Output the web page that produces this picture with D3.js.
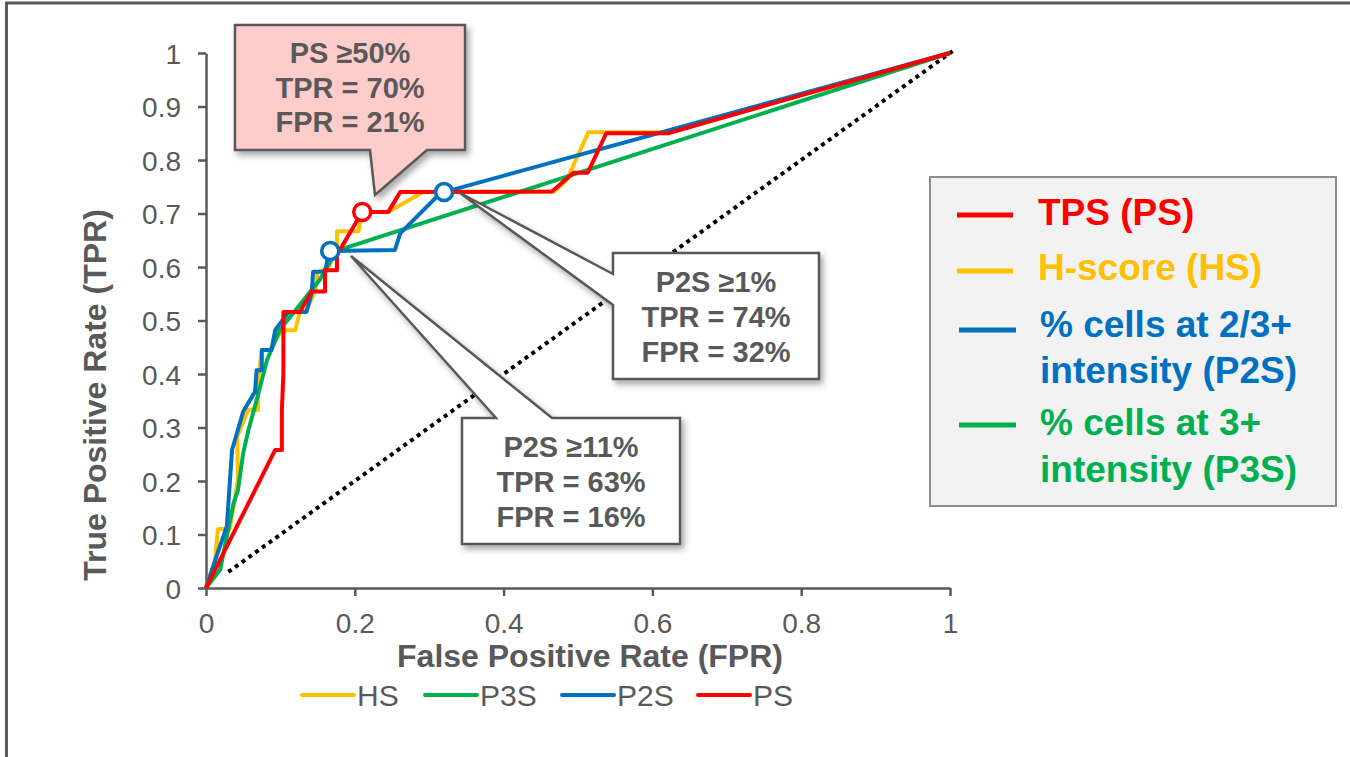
<!DOCTYPE html>
<html>
<head>
<meta charset="utf-8">
<script src="https://cdn.jsdelivr.net/npm/d3@7"></script>
<style>
  html, body { margin: 0; padding: 0; background: #fff; }
  svg { display: block; font-family: "Liberation Sans", Arial, sans-serif; }
</style>
</head>
<body>
<svg id="chart" width="1350" height="757"></svg>
<script>
// ---------------- DATA ----------------
const seriesNames = ["HS", "P3S", "P2S", "PS"];
const seriesColors = ["#ffc000", "#00b050", "#0070c0", "#ff0000"];

// [FPR, TPR] points of each ROC curve
const hsPoints = [[0,0],[0.012,0.05],[0.016,0.11],[0.032,0.111],[0.043,0.202],[0.042,0.283],[0.055,0.327],[0.057,0.333],[0.070,0.333],[0.070,0.389],[0.075,0.445],[0.086,0.445],[0.102,0.482],[0.120,0.482],[0.126,0.516],[0.135,0.520],[0.147,0.556],[0.150,0.590],[0.165,0.600],[0.176,0.632],[0.176,0.667],[0.205,0.667],[0.210,0.703],[0.245,0.703],[0.292,0.740],[0.468,0.741],[0.485,0.763],[0.514,0.852],[0.538,0.852],[0.621,0.852],[1,1]];
const p3sPoints = [[0,0],[0.019,0.034],[0.037,0.158],[0.043,0.183],[0.050,0.252],[0.057,0.295],[0.068,0.351],[0.082,0.426],[0.099,0.482],[0.135,0.545],[0.153,0.576],[0.175,0.630],[1,1]];
const p2sPoints = [[0,0],[0.017,0.071],[0.028,0.115],[0.035,0.258],[0.050,0.330],[0.066,0.367],[0.068,0.407],[0.075,0.407],[0.075,0.445],[0.088,0.445],[0.093,0.482],[0.111,0.516],[0.135,0.516],[0.142,0.551],[0.144,0.591],[0.160,0.591],[0.164,0.619],[0.167,0.630],[0.254,0.632],[0.261,0.663],[0.310,0.731],[0.320,0.740],[1,1]];
const psPoints = [[0,0],[0.093,0.258],[0.102,0.258],[0.102,0.333],[0.104,0.400],[0.104,0.516],[0.126,0.516],[0.142,0.554],[0.160,0.554],[0.160,0.594],[0.176,0.594],[0.176,0.632],[0.180,0.632],[0.210,0.703],[0.245,0.703],[0.261,0.740],[0.465,0.741],[0.494,0.776],[0.513,0.776],[0.538,0.850],[0.621,0.850],[1,1]];
const chancePoints = [[0.03,0.03],[1.008,1.008]];

// highlighted cut-offs
const markerSeries = ["PS", "P2S", "P2S"];
const markerFPR = [0.21, 0.167, 0.32];
const markerTPR = [0.703, 0.63, 0.74];

const xTickValues = [0, 0.2, 0.4, 0.6, 0.8, 1];
const xTickLabels = ["0", "0.2", "0.4", "0.6", "0.8", "1"];
const yTickValues = [0, 0.1, 0.2, 0.3, 0.4, 0.5, 0.6, 0.7, 0.8, 0.9, 1];
const yTickLabels = ["0", "0.1", "0.2", "0.3", "0.4", "0.5", "0.6", "0.7", "0.8", "0.9", "1"];

const xTitle = "False Positive Rate (FPR)";
const yTitle = "True Positive Rate (TPR)";

const calloutTexts = [
  ["PS \u226550%", "TPR = 70%", "FPR = 21%"],
  ["P2S \u22651%", "TPR = 74%", "FPR = 32%"],
  ["P2S \u226511%", "TPR = 63%", "FPR = 16%"]
];

const sideLegendLines = [
  ["TPS (PS)"],
  ["H-score (HS)"],
  ["% cells at 2/3+", "intensity (P2S)"],
  ["% cells at 3+", "intensity (P3S)"]
];
const sideLegendColors = ["#ff0000", "#ffc000", "#0070c0", "#00b050"];

// ---------------- DRAW ----------------
const svg = d3.select("#chart");
const grey = "#595959";

const defs = svg.append("defs");
const f = defs.append("filter").attr("id", "shadow").attr("x", "-10%").attr("y", "-10%").attr("width", "130%").attr("height", "130%");
f.append("feDropShadow").attr("dx", 3).attr("dy", 4).attr("stdDeviation", 3)
  .attr("flood-color", "#000").attr("flood-opacity", 0.35);

// outer frame
svg.append("rect").attr("x", 6.5).attr("y", 3).attr("width", 1400).attr("height", 800)
  .attr("fill", "none").attr("stroke", grey).attr("stroke-width", 3);

const x = d3.scaleLinear().domain([0, 1]).range([206, 950]);
const y = d3.scaleLinear().domain([0, 1]).range([588, 53]);

// axes
const yAxis = d3.axisLeft(y).tickValues(yTickValues)
  .tickFormat((d, i) => yTickLabels[i]).tickSize(8).tickSizeOuter(0).tickPadding(17);
const xAxis = d3.axisBottom(x).tickValues(xTickValues)
  .tickFormat((d, i) => xTickLabels[i]).tickSize(8).tickSizeOuter(0).tickPadding(17);

const gx = svg.append("g").attr("transform", `translate(0,${y(0)})`).call(xAxis);
const gy = svg.append("g").attr("transform", `translate(${x(0)},0)`).call(yAxis);
[gx, gy].forEach(g => {
  g.select(".domain").attr("stroke", grey).attr("stroke-width", 2.5);
  g.selectAll(".tick line").attr("stroke", grey).attr("stroke-width", 2.5);
  g.selectAll(".tick text").attr("fill", grey).style("font-size", "28px")
    .style("font-family", '"Liberation Sans", Arial, sans-serif');
});
gy.selectAll(".tick text").attr("dy", "0.36em");

// axis titles
svg.append("text").attr("x", 590).attr("y", 667).attr("text-anchor", "middle")
  .attr("fill", grey).style("font-size", "32px").style("font-weight", "bold").text(xTitle);
svg.append("text").attr("transform", "translate(95,395) rotate(-90)")
  .attr("text-anchor", "middle").attr("dominant-baseline", "central")
  .attr("fill", grey).style("font-size", "32px").style("font-weight", "bold").text(yTitle);

// chance diagonal
const line = d3.line().x(d => x(d[0])).y(d => y(d[1]));
svg.append("path").attr("d", line(chancePoints)).attr("fill", "none")
  .attr("stroke", "#000").attr("stroke-width", 4).attr("stroke-dasharray", "4,4.3");

// curves
const allPoints = [hsPoints, p3sPoints, p2sPoints, psPoints];
allPoints.forEach((pts, i) => {
  svg.append("path").attr("d", line(pts)).attr("fill", "none")
    .attr("stroke", seriesColors[i]).attr("stroke-width", 4)
    .attr("stroke-linejoin", "round");
});

// markers
markerFPR.forEach((fp, i) => {
  svg.append("circle").attr("cx", x(fp)).attr("cy", y(markerTPR[i])).attr("r", 8.5)
    .attr("fill", "#fff").attr("stroke", seriesColors[seriesNames.indexOf(markerSeries[i])])
    .attr("stroke-width", 3.5);
});

// callouts
const calloutShapes = [
  { d: "M235,25 H465 V150 H427 L375,195 L370,150 H235 Z", fill: "#ffcccc", cx: 350, base: [63, 98, 132] },
  { d: "M613,253 H819 V379 H613 V305 L460,193 L613,274 Z", fill: "#ffffff", cx: 716, base: [292, 327, 362] },
  { d: "M462,418 H496 L351,256 L552,418 H680 V544 H462 Z", fill: "#ffffff", cx: 571, base: [457, 492, 527] }
];
calloutShapes.forEach((c, i) => {
  svg.append("path").attr("d", c.d).attr("fill", c.fill)
    .attr("stroke", grey).attr("stroke-width", 2.5).attr("stroke-linejoin", "miter")
    .attr("filter", "url(#shadow)");
  calloutTexts[i].forEach((t, j) => {
    svg.append("text").attr("x", c.cx).attr("y", c.base[j]).attr("text-anchor", "middle")
      .attr("fill", grey).style("font-size", "29px").style("font-weight", "bold").text(t);
  });
});

// side legend
svg.append("rect").attr("x", 930).attr("y", 177).attr("width", 406).attr("height", 329)
  .attr("fill", "#f2f2f2").attr("stroke", "#8c8c8c").attr("stroke-width", 2);
const sideLineY = [215, 271, 330, 425];
const sideLineX = [[957, 1013], [957, 1013], [959, 1016], [959, 1016]];
const sideTextY = [[225], [280], [337, 383], [435, 482]];
const sideTextX = [1038, 1038, 1040, 1040];
sideLegendLines.forEach((lines, i) => {
  svg.append("line").attr("x1", sideLineX[i][0]).attr("x2", sideLineX[i][1])
    .attr("y1", sideLineY[i]).attr("y2", sideLineY[i])
    .attr("stroke", sideLegendColors[i]).attr("stroke-width", 5);
  lines.forEach((t, j) => {
    svg.append("text").attr("x", sideTextX[i]).attr("y", sideTextY[i][j])
      .attr("fill", sideLegendColors[i]).style("font-size", "37px").style("font-weight", "bold").text(t);
  });
});

// bottom legend
const legLineX = [302, 425, 562, 698];
seriesNames.forEach((n, i) => {
  svg.append("line").attr("x1", legLineX[i]).attr("x2", legLineX[i] + 52)
    .attr("y1", 695).attr("y2", 695).attr("stroke", seriesColors[i])
    .attr("stroke-width", 4).attr("stroke-linecap", "round");
  svg.append("text").attr("x", legLineX[i] + 55).attr("y", 695)
    .attr("dominant-baseline", "central").attr("fill", grey)
    .style("font-size", "30px").text(n);
});
</script>
</body>
</html>
